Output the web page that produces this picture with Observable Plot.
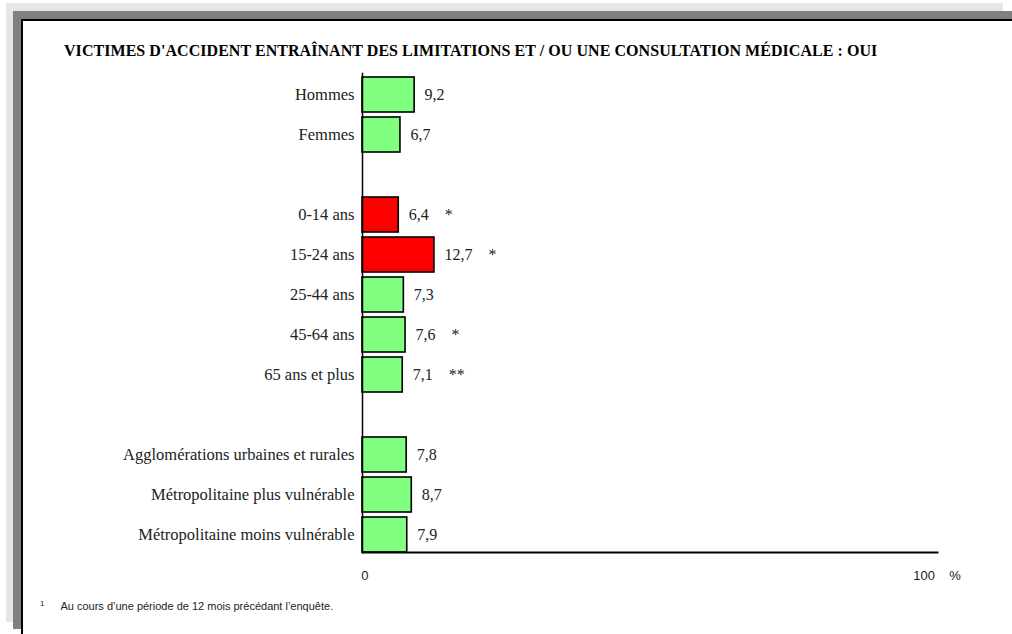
<!DOCTYPE html>
<html>
<head>
<meta charset="utf-8">
<script src="https://cdn.jsdelivr.net/npm/d3@7"></script>
<script src="https://cdn.jsdelivr.net/npm/@observablehq/plot@0.6"></script>
<style>
  html, body { margin: 0; padding: 0; width: 1012px; height: 634px; overflow: hidden; background: #fff; }
  #bg1 { position: absolute; left: 6px; top: 3px; width: 997px; height: 619px; background: #e6e6e6; }
  #bg2 { position: absolute; left: 13px; top: 11px; width: 1000px; height: 618px; background: #808080; }
  #panel { position: absolute; left: 21px; top: 19px; width: 1000px; height: 630px; background: #fff; border-left: 2px solid #000; border-top: 2px solid #000; }
  #title { position: absolute; left: 64px; top: 42px; font-family: "Liberation Serif", "Times New Roman", serif; font-weight: bold; font-size: 16px; color: #000; white-space: nowrap; letter-spacing: 0.05px; }
  #foot { position: absolute; left: 40px; top: 599px; font-family: "Liberation Sans Narrow", "Liberation Sans", Arial, sans-serif; font-size: 11px; color: #222; white-space: nowrap; }
  #foot sup { font-size: 8px; margin-right: 16px; vertical-align: 4px; }
  #chart { position: absolute; left: 0; top: 0; }
</style>
</head>
<body>
<div id="bg1"></div>
<div id="bg2"></div>
<div id="panel"></div>
<div id="title">VICTIMES D'ACCIDENT ENTRAÎNANT DES LIMITATIONS ET / OU UNE CONSULTATION MÉDICALE : OUI</div>
<div id="foot"><sup>1</sup>Au cours d’une période de 12 mois précédant l’enquête.</div>
<div id="chart"></div>
<script>
const categories = ["Hommes", "Femmes", " ", "0-14 ans", "15-24 ans", "25-44 ans", "45-64 ans", "65 ans et plus", "  ", "Agglomérations urbaines et rurales", "Métropolitaine plus vulnérable", "Métropolitaine moins vulnérable"];
const barCategories = ["Hommes", "Femmes", "0-14 ans", "15-24 ans", "25-44 ans", "45-64 ans", "65 ans et plus", "Agglomérations urbaines et rurales", "Métropolitaine plus vulnérable", "Métropolitaine moins vulnérable"];
const values = [9.2, 6.7, 6.4, 12.7, 7.3, 7.6, 7.1, 7.8, 8.7, 7.9];
const stars = ["", "", "*", "*", "", "*", "**", "", "", ""];
const highlight = [false, false, true, true, false, false, false, false, false, false];
const xTicks = [0, 100];
const unitLabel = "%";

const data = barCategories.map((c, i) => ({
  cat: c, value: values[i], star: stars[i], hi: highlight[i],
  label: String(values[i]).replace(".", ",") + (stars[i] ? "\u2003" + stars[i] : "")
}));

const serif = "'Liberation Serif', 'Times New Roman', serif";
const sans = "'Liberation Sans', Arial, sans-serif";

const chart = Plot.plot({
  width: 1012,
  height: 634,
  marginLeft: 362,
  marginRight: 75,
  marginTop: 76,
  marginBottom: 82,
  style: { background: "transparent", fontFamily: serif, fontSize: "16px", color: "#222" },
  x: { domain: [0, 101.5], axis: null },
  y: { domain: categories, paddingInner: 0.125, paddingOuter: 0, axis: null },
  marks: [
    Plot.barX(data, {
      x: "value", y: "cat",
      fill: d => d.hi ? "#ff0000" : "#80ff80",
      stroke: "#000", strokeWidth: 1.6
    }),
    Plot.axisY({ tickSize: 0, tickPadding: 8, label: null, fontFamily: serif, fontSize: 16.5, fill: "#222" }),
    Plot.frame({ anchor: "left", stroke: "#000", strokeWidth: 1.5, insetTop: -3 }),
    Plot.frame({ anchor: "bottom", stroke: "#000", strokeWidth: 2 }),
    Plot.text(data, {
      x: "value", y: "cat", text: "label", textAnchor: "start", dx: 10,
      fontFamily: serif, fontSize: 16, fill: "#222"
    }),
    Plot.text(xTicks, {
      x: d => d, text: d => String(d), frameAnchor: "bottom", dy: 27, dx: 6, textAnchor: "end",
      fontFamily: sans, fontSize: 13, fill: "#222"
    }),
    Plot.text([100], {
      x: d => d, text: () => unitLabel, frameAnchor: "bottom", dy: 27, dx: 26,
      fontFamily: sans, fontSize: 13, fill: "#222"
    })
  ]
});
document.getElementById("chart").appendChild(chart);
</script>
</body>
</html>
